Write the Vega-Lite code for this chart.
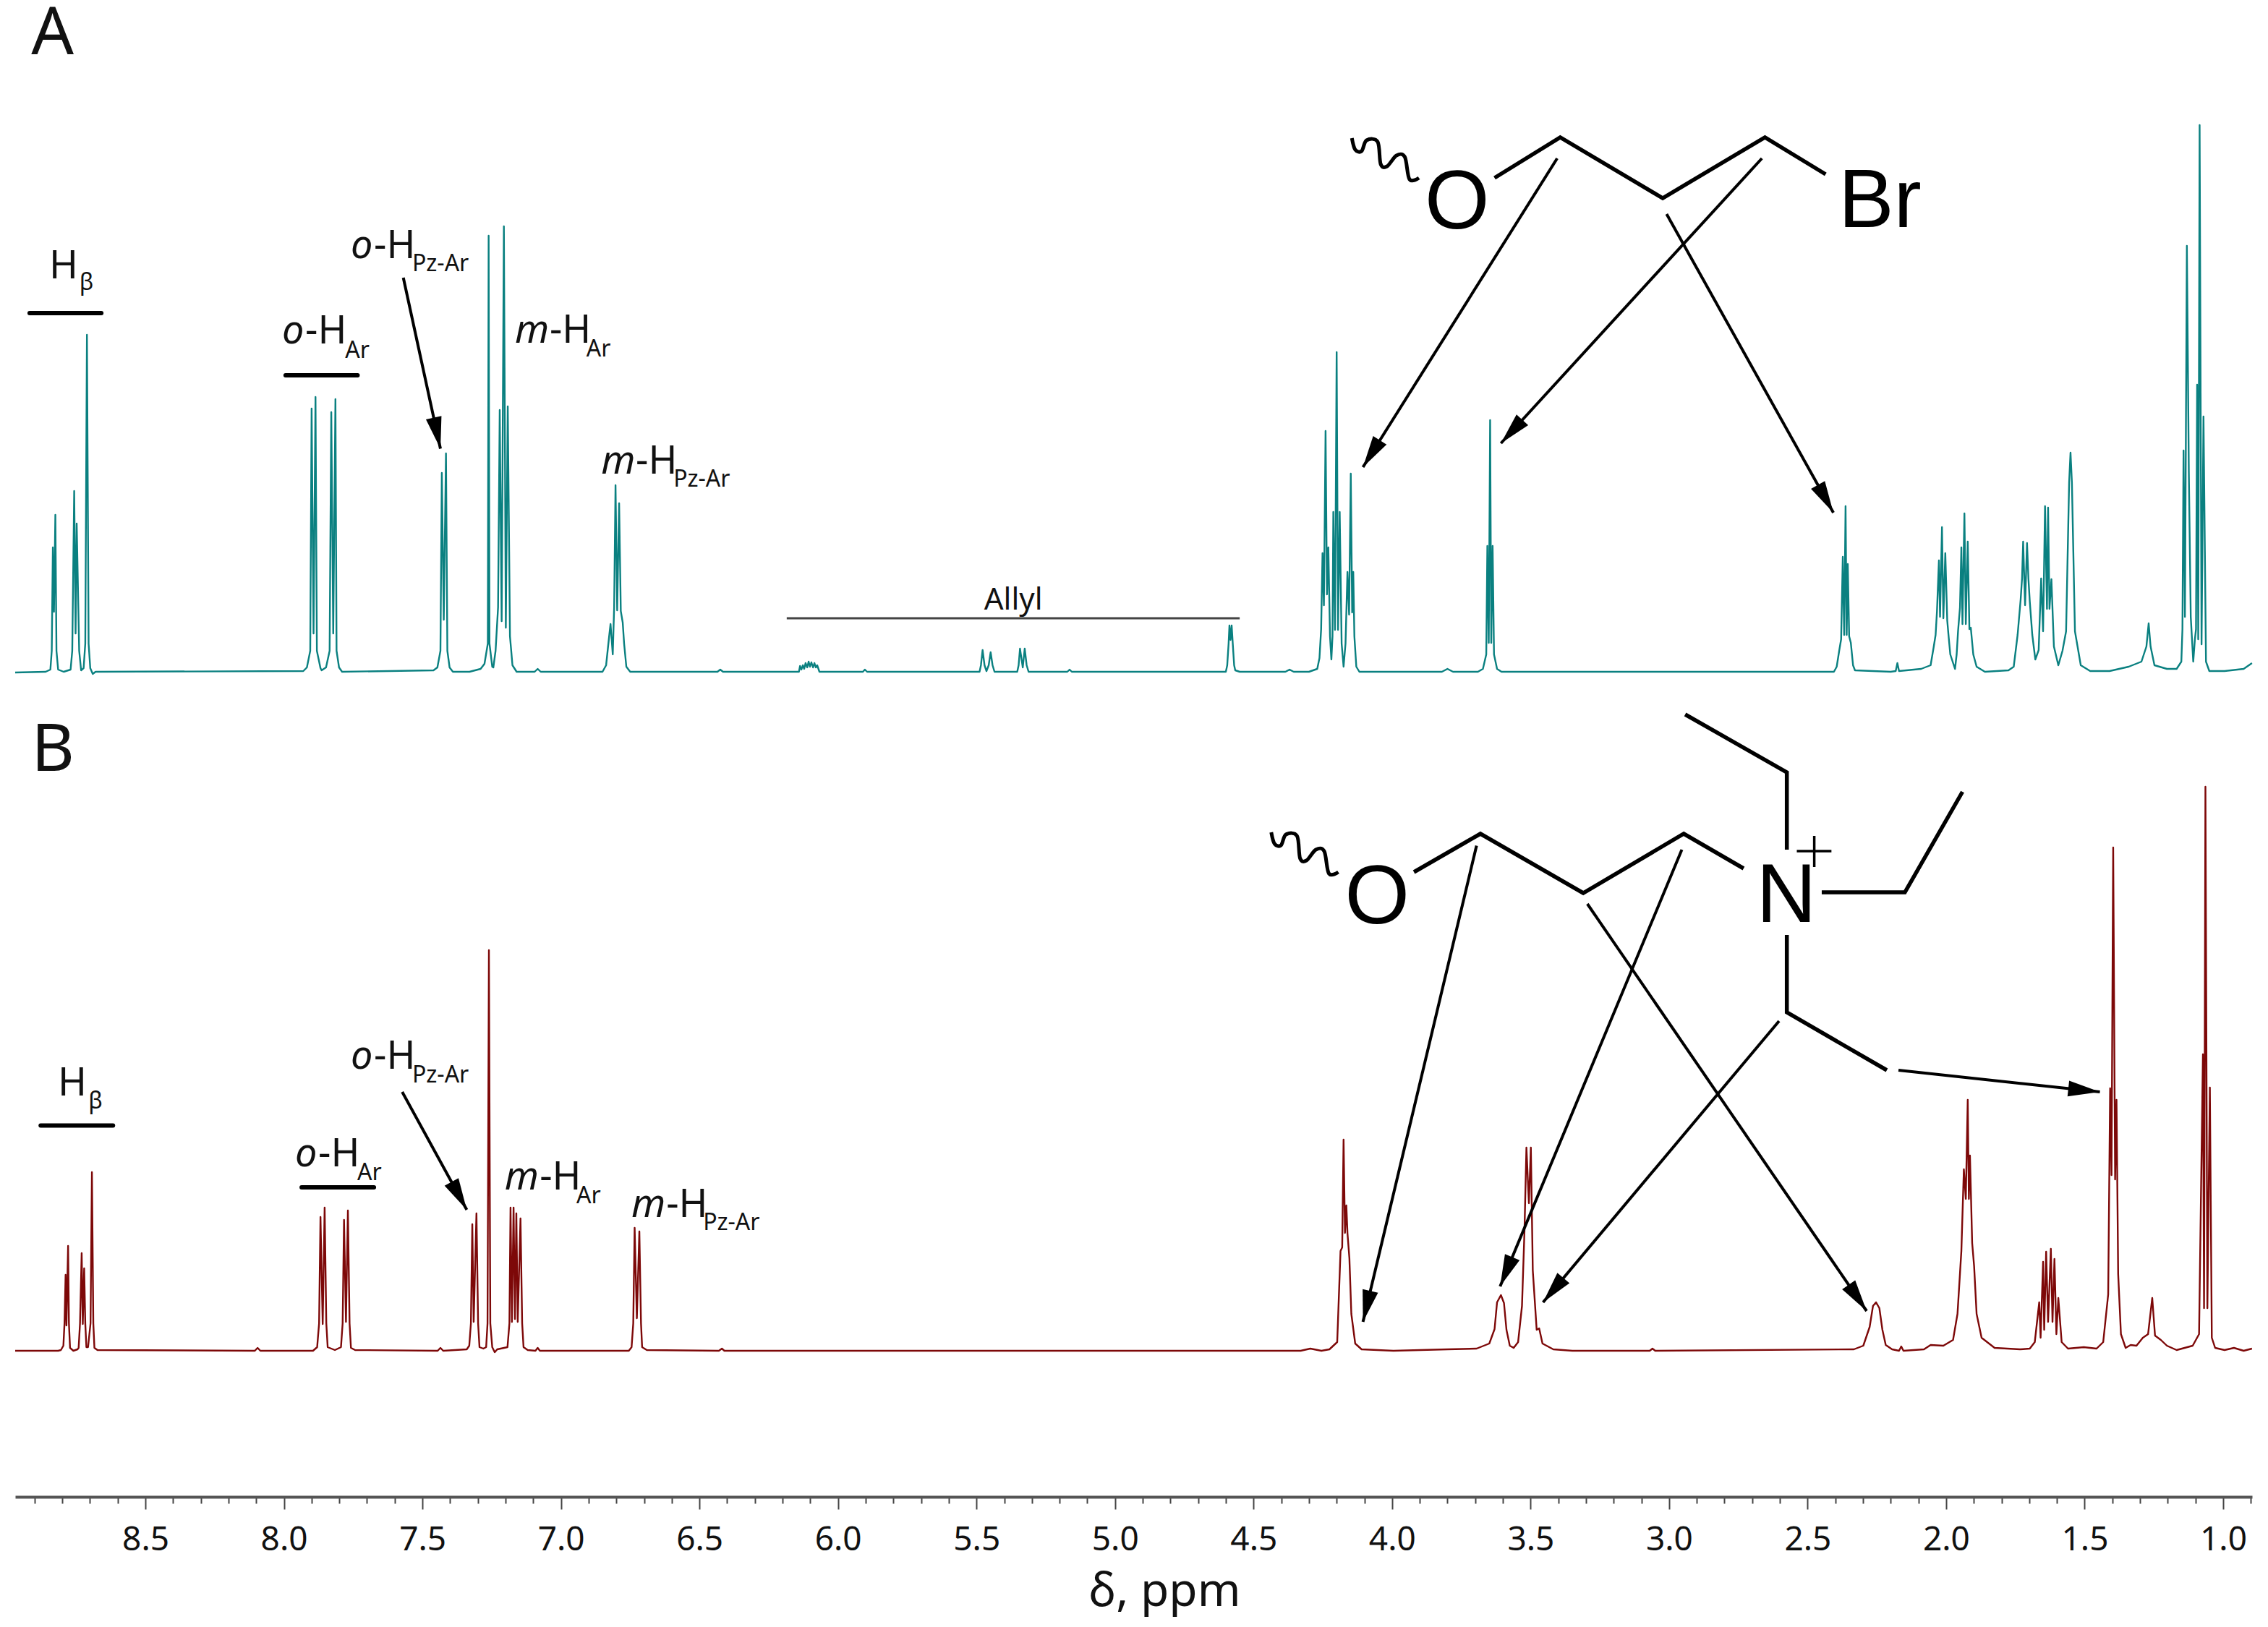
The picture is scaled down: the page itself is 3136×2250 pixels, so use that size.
{
"$schema":"https://vega.github.io/schema/vega-lite/v6.json",
"width":3093,"height":2070,
"autosize":"none",
"padding":{"left":21,"top":0,"right":22,"bottom":180},
"background":"white",
"config":{"view":{"stroke":null}},
"datasets":{
"spectra":[
{"s":"A","x":8.97,"y":1140},{"s":"A","x":8.86,"y":1141},{"s":"A","x":8.843,"y":1144},{"s":"A","x":8.838,"y":1170},{"s":"A","x":8.834,"y":1313},{"s":"A","x":8.83,"y":1224},{"s":"A","x":8.825,"y":1358},{"s":"A","x":8.821,"y":1170},{"s":"A","x":8.815,"y":1144},{"s":"A","x":8.795,"y":1141},{"s":"A","x":8.77,"y":1144},{"s":"A","x":8.764,"y":1170},{"s":"A","x":8.757,"y":1391},{"s":"A","x":8.752,"y":1194},{"s":"A","x":8.748,"y":1346},{"s":"A","x":8.739,"y":1170},{"s":"A","x":8.732,"y":1143},{"s":"A","x":8.723,"y":1146},{"s":"A","x":8.717,"y":1180},{"s":"A","x":8.711,"y":1607},{"s":"A","x":8.705,"y":1180},{"s":"A","x":8.699,"y":1146},{"s":"A","x":8.69,"y":1138},{"s":"A","x":8.68,"y":1141},
{"s":"A","x":7.93,"y":1142},{"s":"A","x":7.917,"y":1147},{"s":"A","x":7.905,"y":1170},{"s":"A","x":7.9,"y":1505},{"s":"A","x":7.893,"y":1194},{"s":"A","x":7.886,"y":1521},{"s":"A","x":7.881,"y":1170},{"s":"A","x":7.868,"y":1146},{"s":"A","x":7.864,"y":1143},{"s":"A","x":7.848,"y":1147},{"s":"A","x":7.835,"y":1170},{"s":"A","x":7.829,"y":1500},{"s":"A","x":7.822,"y":1194},{"s":"A","x":7.814,"y":1518},{"s":"A","x":7.81,"y":1170},{"s":"A","x":7.801,"y":1147},{"s":"A","x":7.79,"y":1141},
{"s":"A","x":7.46,"y":1143},{"s":"A","x":7.446,"y":1147},{"s":"A","x":7.435,"y":1170},{"s":"A","x":7.43,"y":1416},{"s":"A","x":7.423,"y":1213},{"s":"A","x":7.415,"y":1443},{"s":"A","x":7.41,"y":1170},{"s":"A","x":7.402,"y":1147},{"s":"A","x":7.39,"y":1141},{"s":"A","x":7.33,"y":1141},{"s":"A","x":7.29,"y":1145},{"s":"A","x":7.276,"y":1152},{"s":"A","x":7.264,"y":1180},{"s":"A","x":7.261,"y":1744},{"s":"A","x":7.258,"y":1180},{"s":"A","x":7.248,"y":1148},{"s":"A","x":7.244,"y":1147},{"s":"A","x":7.236,"y":1170},{"s":"A","x":7.227,"y":1230},{"s":"A","x":7.221,"y":1503},{"s":"A","x":7.214,"y":1211},{"s":"A","x":7.206,"y":1757},{"s":"A","x":7.199,"y":1202},{"s":"A","x":7.192,"y":1508},{"s":"A","x":7.184,"y":1190},{"s":"A","x":7.175,"y":1150},{"s":"A","x":7.16,"y":1141},{"s":"A","x":7.095,"y":1141},{"s":"A","x":7.084,"y":1145},{"s":"A","x":7.073,"y":1141},
{"s":"A","x":6.85,"y":1141},{"s":"A","x":6.837,"y":1150},{"s":"A","x":6.826,"y":1190},{"s":"A","x":6.821,"y":1207},{"s":"A","x":6.813,"y":1165},{"s":"A","x":6.808,"y":1230},{"s":"A","x":6.803,"y":1399},{"s":"A","x":6.797,"y":1226},{"s":"A","x":6.79,"y":1374},{"s":"A","x":6.784,"y":1225},{"s":"A","x":6.777,"y":1209},{"s":"A","x":6.772,"y":1180},{"s":"A","x":6.764,"y":1148},{"s":"A","x":6.75,"y":1141},{"s":"A","x":6.435,"y":1141},{"s":"A","x":6.425,"y":1144},{"s":"A","x":6.415,"y":1141},
{"s":"A","x":6.141,"y":1141},{"s":"A","x":6.137,"y":1149},{"s":"A","x":6.132,"y":1144},{"s":"A","x":6.127,"y":1150},{"s":"A","x":6.122,"y":1145},{"s":"A","x":6.117,"y":1153},{"s":"A","x":6.111,"y":1147},{"s":"A","x":6.106,"y":1155},{"s":"A","x":6.101,"y":1148},{"s":"A","x":6.096,"y":1154},{"s":"A","x":6.09,"y":1147},{"s":"A","x":6.085,"y":1153},{"s":"A","x":6.08,"y":1147},{"s":"A","x":6.075,"y":1150},{"s":"A","x":6.067,"y":1141},{"s":"A","x":5.91,"y":1141},{"s":"A","x":5.903,"y":1144},{"s":"A","x":5.895,"y":1141},
{"s":"A","x":5.489,"y":1141},{"s":"A","x":5.484,"y":1150},{"s":"A","x":5.478,"y":1171},{"s":"A","x":5.471,"y":1150},{"s":"A","x":5.464,"y":1142},{"s":"A","x":5.456,"y":1150},{"s":"A","x":5.449,"y":1168},{"s":"A","x":5.442,"y":1150},{"s":"A","x":5.435,"y":1141},{"s":"A","x":5.353,"y":1141},{"s":"A","x":5.348,"y":1150},{"s":"A","x":5.343,"y":1173},{"s":"A","x":5.333,"y":1147},{"s":"A","x":5.326,"y":1173},{"s":"A","x":5.319,"y":1150},{"s":"A","x":5.312,"y":1141},{"s":"A","x":5.172,"y":1141},{"s":"A","x":5.164,"y":1144},{"s":"A","x":5.156,"y":1141},
{"s":"A","x":4.6,"y":1141},{"s":"A","x":4.595,"y":1150},{"s":"A","x":4.59,"y":1180},{"s":"A","x":4.587,"y":1205},{"s":"A","x":4.583,"y":1185},{"s":"A","x":4.579,"y":1205},{"s":"A","x":4.575,"y":1180},{"s":"A","x":4.57,"y":1150},{"s":"A","x":4.566,"y":1143},{"s":"A","x":4.55,"y":1141},{"s":"A","x":4.385,"y":1141},{"s":"A","x":4.37,"y":1144},{"s":"A","x":4.355,"y":1141},
{"s":"A","x":4.3,"y":1141},{"s":"A","x":4.27,"y":1145},{"s":"A","x":4.262,"y":1160},{"s":"A","x":4.256,"y":1200},{"s":"A","x":4.251,"y":1305},{"s":"A","x":4.246,"y":1233},{"s":"A","x":4.24,"y":1474},{"s":"A","x":4.235,"y":1248},{"s":"A","x":4.23,"y":1313},{"s":"A","x":4.224,"y":1190},{"s":"A","x":4.219,"y":1158},{"s":"A","x":4.215,"y":1190},{"s":"A","x":4.212,"y":1362},{"s":"A","x":4.206,"y":1199},{"s":"A","x":4.2,"y":1583},{"s":"A","x":4.195,"y":1199},{"s":"A","x":4.189,"y":1362},{"s":"A","x":4.182,"y":1180},{"s":"A","x":4.175,"y":1148},{"s":"A","x":4.168,"y":1180},{"s":"A","x":4.161,"y":1279},{"s":"A","x":4.155,"y":1220},{"s":"A","x":4.149,"y":1415},{"s":"A","x":4.144,"y":1223},{"s":"A","x":4.14,"y":1279},{"s":"A","x":4.136,"y":1190},{"s":"A","x":4.129,"y":1148},{"s":"A","x":4.118,"y":1141},
{"s":"A","x":3.82,"y":1141},{"s":"A","x":3.8,"y":1145},{"s":"A","x":3.78,"y":1141},{"s":"A","x":3.69,"y":1141},{"s":"A","x":3.672,"y":1145},{"s":"A","x":3.66,"y":1165},{"s":"A","x":3.656,"y":1315},{"s":"A","x":3.651,"y":1181},{"s":"A","x":3.646,"y":1489},{"s":"A","x":3.642,"y":1181},{"s":"A","x":3.637,"y":1315},{"s":"A","x":3.632,"y":1165},{"s":"A","x":3.621,"y":1145},{"s":"A","x":3.605,"y":1141},
{"s":"A","x":2.405,"y":1141},{"s":"A","x":2.395,"y":1148},{"s":"A","x":2.386,"y":1170},{"s":"A","x":2.379,"y":1186},{"s":"A","x":2.373,"y":1300},{"s":"A","x":2.368,"y":1192},{"s":"A","x":2.363,"y":1370},{"s":"A","x":2.359,"y":1192},{"s":"A","x":2.355,"y":1290},{"s":"A","x":2.35,"y":1190},{"s":"A","x":2.344,"y":1181},{"s":"A","x":2.336,"y":1150},{"s":"A","x":2.329,"y":1143},{"s":"A","x":2.2,"y":1141},{"s":"A","x":2.182,"y":1142},{"s":"A","x":2.176,"y":1153},{"s":"A","x":2.17,"y":1142},
{"s":"A","x":2.09,"y":1145},{"s":"A","x":2.07,"y":1148},{"s":"A","x":2.056,"y":1150},{"s":"A","x":2.045,"y":1175},{"s":"A","x":2.038,"y":1192},{"s":"A","x":2.033,"y":1225},{"s":"A","x":2.026,"y":1295},{"s":"A","x":2.022,"y":1217},{"s":"A","x":2.015,"y":1341},{"s":"A","x":2.01,"y":1215},{"s":"A","x":2.003,"y":1305},{"s":"A","x":1.996,"y":1212},{"s":"A","x":1.992,"y":1194},{"s":"A","x":1.985,"y":1165},{"s":"A","x":1.968,"y":1145},{"s":"A","x":1.962,"y":1165},{"s":"A","x":1.957,"y":1197},{"s":"A","x":1.95,"y":1230},{"s":"A","x":1.945,"y":1313},{"s":"A","x":1.941,"y":1207},{"s":"A","x":1.934,"y":1360},{"s":"A","x":1.929,"y":1207},{"s":"A","x":1.922,"y":1321},{"s":"A","x":1.916,"y":1200},{"s":"A","x":1.911,"y":1202},{"s":"A","x":1.902,"y":1165},{"s":"A","x":1.89,"y":1148},{"s":"A","x":1.86,"y":1141},
{"s":"A","x":1.775,"y":1143},{"s":"A","x":1.756,"y":1148},{"s":"A","x":1.742,"y":1192},{"s":"A","x":1.731,"y":1241},{"s":"A","x":1.726,"y":1270},{"s":"A","x":1.722,"y":1321},{"s":"A","x":1.715,"y":1233},{"s":"A","x":1.708,"y":1319},{"s":"A","x":1.703,"y":1270},{"s":"A","x":1.698,"y":1238},{"s":"A","x":1.689,"y":1192},{"s":"A","x":1.678,"y":1158},{"s":"A","x":1.666,"y":1171},{"s":"A","x":1.657,"y":1270},{"s":"A","x":1.65,"y":1197},{"s":"A","x":1.643,"y":1370},{"s":"A","x":1.636,"y":1228},{"s":"A","x":1.632,"y":1368},{"s":"A","x":1.627,"y":1228},{"s":"A","x":1.62,"y":1269},{"s":"A","x":1.611,"y":1176},{"s":"A","x":1.595,"y":1150},{"s":"A","x":1.58,"y":1170},{"s":"A","x":1.567,"y":1197},{"s":"A","x":1.556,"y":1403},{"s":"A","x":1.551,"y":1444},{"s":"A","x":1.546,"y":1403},{"s":"A","x":1.535,"y":1197},{"s":"A","x":1.514,"y":1150},{"s":"A","x":1.48,"y":1142},{"s":"A","x":1.41,"y":1142},{"s":"A","x":1.341,"y":1148},{"s":"A","x":1.295,"y":1155},{"s":"A","x":1.277,"y":1176},{"s":"A","x":1.269,"y":1208},{"s":"A","x":1.262,"y":1176},{"s":"A","x":1.248,"y":1150},{"s":"A","x":1.203,"y":1145},{"s":"A","x":1.168,"y":1145},{"s":"A","x":1.151,"y":1155},{"s":"A","x":1.147,"y":1200},{"s":"A","x":1.143,"y":1447},{"s":"A","x":1.138,"y":1217},{"s":"A","x":1.131,"y":1730},{"s":"A","x":1.124,"y":1419},{"s":"A","x":1.117,"y":1217},{"s":"A","x":1.108,"y":1155},{"s":"A","x":1.102,"y":1186},{"s":"A","x":1.098,"y":1200},{"s":"A","x":1.094,"y":1538},{"s":"A","x":1.09,"y":1186},{"s":"A","x":1.085,"y":1897},{"s":"A","x":1.078,"y":1179},{"s":"A","x":1.071,"y":1494},{"s":"A","x":1.062,"y":1155},{"s":"A","x":1.05,"y":1142},{"s":"A","x":0.995,"y":1142},{"s":"A","x":0.926,"y":1145},{"s":"A","x":0.896,"y":1153},
{"s":"B","x":8.97,"y":202},{"s":"B","x":8.815,"y":202},{"s":"B","x":8.805,"y":203},{"s":"B","x":8.796,"y":209},{"s":"B","x":8.792,"y":240},{"s":"B","x":8.788,"y":307},{"s":"B","x":8.785,"y":237},{"s":"B","x":8.779,"y":347},{"s":"B","x":8.776,"y":240},{"s":"B","x":8.772,"y":206},{"s":"B","x":8.76,"y":202},{"s":"B","x":8.745,"y":204},{"s":"B","x":8.741,"y":206},{"s":"B","x":8.736,"y":240},{"s":"B","x":8.73,"y":337},{"s":"B","x":8.726,"y":239},{"s":"B","x":8.721,"y":316},{"s":"B","x":8.717,"y":240},{"s":"B","x":8.713,"y":207},{"s":"B","x":8.707,"y":207},{"s":"B","x":8.698,"y":240},{"s":"B","x":8.693,"y":449},{"s":"B","x":8.688,"y":240},{"s":"B","x":8.684,"y":206},{"s":"B","x":8.673,"y":203},{"s":"B","x":8.105,"y":202},{"s":"B","x":8.095,"y":206},{"s":"B","x":8.085,"y":202},
{"s":"B","x":7.895,"y":202},{"s":"B","x":7.88,"y":207},{"s":"B","x":7.873,"y":240},{"s":"B","x":7.868,"y":387},{"s":"B","x":7.86,"y":239},{"s":"B","x":7.853,"y":400},{"s":"B","x":7.847,"y":240},{"s":"B","x":7.842,"y":207},{"s":"B","x":7.816,"y":203},{"s":"B","x":7.794,"y":207},{"s":"B","x":7.788,"y":240},{"s":"B","x":7.783,"y":383},{"s":"B","x":7.776,"y":242},{"s":"B","x":7.769,"y":396},{"s":"B","x":7.763,"y":240},{"s":"B","x":7.758,"y":206},{"s":"B","x":7.743,"y":203},{"s":"B","x":7.445,"y":202},{"s":"B","x":7.435,"y":206},{"s":"B","x":7.425,"y":202},
{"s":"B","x":7.34,"y":204},{"s":"B","x":7.331,"y":209},{"s":"B","x":7.325,"y":240},{"s":"B","x":7.32,"y":377},{"s":"B","x":7.315,"y":242},{"s":"B","x":7.305,"y":392},{"s":"B","x":7.299,"y":240},{"s":"B","x":7.294,"y":207},{"s":"B","x":7.28,"y":205},{"s":"B","x":7.27,"y":207},{"s":"B","x":7.265,"y":240},{"s":"B","x":7.26,"y":756},{"s":"B","x":7.255,"y":240},{"s":"B","x":7.248,"y":207},{"s":"B","x":7.239,"y":200},{"s":"B","x":7.23,"y":204},{"s":"B","x":7.193,"y":207},{"s":"B","x":7.186,"y":240},{"s":"B","x":7.182,"y":400},{"s":"B","x":7.177,"y":242},{"s":"B","x":7.171,"y":400},{"s":"B","x":7.166,"y":246},{"s":"B","x":7.161,"y":392},{"s":"B","x":7.156,"y":242},{"s":"B","x":7.146,"y":385},{"s":"B","x":7.14,"y":240},{"s":"B","x":7.135,"y":207},{"s":"B","x":7.12,"y":203},{"s":"B","x":7.092,"y":202},{"s":"B","x":7.084,"y":206},{"s":"B","x":7.076,"y":202},
{"s":"B","x":6.755,"y":202},{"s":"B","x":6.745,"y":207},{"s":"B","x":6.739,"y":240},{"s":"B","x":6.734,"y":372},{"s":"B","x":6.726,"y":247},{"s":"B","x":6.717,"y":367},{"s":"B","x":6.711,"y":240},{"s":"B","x":6.707,"y":207},{"s":"B","x":6.69,"y":203},{"s":"B","x":6.43,"y":202},{"s":"B","x":6.419,"y":205},{"s":"B","x":6.41,"y":202},
{"s":"B","x":4.33,"y":202},{"s":"B","x":4.295,"y":205},{"s":"B","x":4.255,"y":202},{"s":"B","x":4.226,"y":204},{"s":"B","x":4.198,"y":214},{"s":"B","x":4.186,"y":340},{"s":"B","x":4.18,"y":345},{"s":"B","x":4.175,"y":494},{"s":"B","x":4.17,"y":365},{"s":"B","x":4.165,"y":403},{"s":"B","x":4.161,"y":365},{"s":"B","x":4.154,"y":330},{"s":"B","x":4.147,"y":253},{"s":"B","x":4.133,"y":212},{"s":"B","x":4.11,"y":204},{"s":"B","x":3.995,"y":202},{"s":"B","x":3.8,"y":204},{"s":"B","x":3.695,"y":205},{"s":"B","x":3.649,"y":212},{"s":"B","x":3.63,"y":232},{"s":"B","x":3.621,"y":269},{"s":"B","x":3.607,"y":279},{"s":"B","x":3.596,"y":268},{"s":"B","x":3.587,"y":231},{"s":"B","x":3.575,"y":209},{"s":"B","x":3.561,"y":206},{"s":"B","x":3.545,"y":214},{"s":"B","x":3.531,"y":264},{"s":"B","x":3.522,"y":368},{"s":"B","x":3.515,"y":483},{"s":"B","x":3.506,"y":406},{"s":"B","x":3.499,"y":483},{"s":"B","x":3.492,"y":313},{"s":"B","x":3.478,"y":231},{"s":"B","x":3.469,"y":233},{"s":"B","x":3.457,"y":212},{"s":"B","x":3.418,"y":204},{"s":"B","x":3.349,"y":202},{"s":"B","x":3.07,"y":202},{"s":"B","x":3.06,"y":205},{"s":"B","x":3.05,"y":202},
{"s":"B","x":2.333,"y":204},{"s":"B","x":2.299,"y":209},{"s":"B","x":2.276,"y":235},{"s":"B","x":2.264,"y":264},{"s":"B","x":2.253,"y":269},{"s":"B","x":2.241,"y":261},{"s":"B","x":2.23,"y":231},{"s":"B","x":2.218,"y":210},{"s":"B","x":2.195,"y":204},{"s":"B","x":2.17,"y":202},{"s":"B","x":2.162,"y":208},{"s":"B","x":2.154,"y":202},{"s":"B","x":2.08,"y":204},{"s":"B","x":2.056,"y":210},{"s":"B","x":2.01,"y":209},{"s":"B","x":1.975,"y":217},{"s":"B","x":1.959,"y":253},{"s":"B","x":1.945,"y":340},{"s":"B","x":1.936,"y":453},{"s":"B","x":1.929,"y":412},{"s":"B","x":1.922,"y":549},{"s":"B","x":1.918,"y":412},{"s":"B","x":1.914,"y":472},{"s":"B","x":1.906,"y":351},{"s":"B","x":1.899,"y":319},{"s":"B","x":1.89,"y":253},{"s":"B","x":1.872,"y":220},{"s":"B","x":1.825,"y":206},{"s":"B","x":1.733,"y":204},
{"s":"B","x":1.698,"y":205},{"s":"B","x":1.68,"y":214},{"s":"B","x":1.664,"y":269},{"s":"B","x":1.659,"y":220},{"s":"B","x":1.65,"y":325},{"s":"B","x":1.646,"y":231},{"s":"B","x":1.639,"y":339},{"s":"B","x":1.632,"y":242},{"s":"B","x":1.622,"y":343},{"s":"B","x":1.616,"y":242},{"s":"B","x":1.609,"y":329},{"s":"B","x":1.602,"y":225},{"s":"B","x":1.595,"y":275},{"s":"B","x":1.583,"y":214},{"s":"B","x":1.56,"y":205},{"s":"B","x":1.503,"y":207},{"s":"B","x":1.457,"y":205},{"s":"B","x":1.433,"y":214},{"s":"B","x":1.415,"y":280},{"s":"B","x":1.408,"y":565},{"s":"B","x":1.403,"y":445},{"s":"B","x":1.397,"y":898},{"s":"B","x":1.39,"y":439},{"s":"B","x":1.385,"y":549},{"s":"B","x":1.379,"y":308},{"s":"B","x":1.369,"y":225},{"s":"B","x":1.352,"y":206},{"s":"B","x":1.334,"y":210},{"s":"B","x":1.313,"y":209},{"s":"B","x":1.29,"y":220},{"s":"B","x":1.271,"y":225},{"s":"B","x":1.256,"y":275},{"s":"B","x":1.246,"y":223},{"s":"B","x":1.225,"y":217},{"s":"B","x":1.203,"y":209},{"s":"B","x":1.168,"y":203},{"s":"B","x":1.11,"y":209},{"s":"B","x":1.087,"y":225},{"s":"B","x":1.073,"y":612},{"s":"B","x":1.069,"y":261},{"s":"B","x":1.064,"y":982},{"s":"B","x":1.057,"y":261},{"s":"B","x":1.048,"y":566},{"s":"B","x":1.041,"y":220},{"s":"B","x":1.029,"y":206},{"s":"B","x":0.995,"y":203},{"s":"B","x":0.961,"y":206},{"s":"B","x":0.926,"y":202},{"s":"B","x":0.896,"y":205}
],
"bonds":[
{"b":"a","i":1,"x":3.63,"y":1824},{"b":"a","i":2,"x":3.393,"y":1880},{"b":"a","i":3,"x":3.023,"y":1796},{"b":"a","i":4,"x":2.654,"y":1880},{"b":"a","i":5,"x":2.435,"y":1829},
{"b":"b","i":1,"x":3.921,"y":864},{"b":"b","i":2,"x":3.681,"y":917},{"b":"b","i":3,"x":3.31,"y":835},{"b":"b","i":4,"x":2.947,"y":917},{"b":"b","i":5,"x":2.731,"y":869},
{"b":"c","i":1,"x":2.575,"y":895},{"b":"c","i":2,"x":2.575,"y":1002},{"b":"c","i":3,"x":2.942,"y":1082},
{"b":"d","i":1,"x":2.449,"y":836},{"b":"d","i":2,"x":2.149,"y":836},{"b":"d","i":3,"x":1.941,"y":975},
{"b":"e","i":1,"x":2.575,"y":777},{"b":"e","i":2,"x":2.575,"y":670},{"b":"e","i":3,"x":2.214,"y":590}
],
"squiggles":[
{"b":"a","x":4.145,"y":1879},{"b":"a","x":4.133,"y":1863},{"b":"a","x":4.11,"y":1861},{"b":"a","x":4.092,"y":1876},{"b":"a","x":4.052,"y":1874},{"b":"a","x":4.041,"y":1843},{"b":"a","x":4.018,"y":1840},{"b":"a","x":3.984,"y":1855},{"b":"a","x":3.954,"y":1853},{"b":"a","x":3.937,"y":1822},{"b":"a","x":3.903,"y":1824},
{"b":"b","x":4.436,"y":919},{"b":"b","x":4.424,"y":903},{"b":"b","x":4.401,"y":901},{"b":"b","x":4.383,"y":916},{"b":"b","x":4.343,"y":914},{"b":"b","x":4.332,"y":883},{"b":"b","x":4.309,"y":880},{"b":"b","x":4.275,"y":895},{"b":"b","x":4.245,"y":893},{"b":"b","x":4.228,"y":862},{"b":"b","x":4.194,"y":864}
],
"bars":[
{"x":8.918,"x2":8.659,"y":1637},{"x":7.994,"x2":7.734,"y":1551},{"x":8.878,"x2":8.617,"y":513.5},{"x":7.936,"x2":7.675,"y":428}
],
"arrows":[
{"x":3.404,"y":1851,"x2":4.105,"y2":1424},{"x":2.665,"y":1851,"x2":3.607,"y2":1457},{"x":3.009,"y":1774,"x2":2.407,"y2":1361},{"x":7.569,"y":1686,"x2":7.435,"y2":1449.5},
{"x":7.573,"y":560,"x2":7.34,"y2":397},{"x":3.695,"y":900.5,"x2":4.105,"y2":242},{"x":2.954,"y":895,"x2":3.61,"y2":291},{"x":2.603,"y":658,"x2":3.455,"y2":269},{"x":3.295,"y":820,"x2":2.287,"y2":257},{"x":2.172,"y":590,"x2":1.445,"y2":560}
],
"plus":[
{"x":2.539,"x2":2.414,"y":893,"y2":893},{"x":2.476,"x2":2.476,"y":914,"y2":871}
],
"labels":[
{"kind":"panel","x":8.912,"y":1995,"t":"A"},{"kind":"panel","x":8.912,"y":1004,"t":"B"},
{"kind":"normal","x":8.847,"y":1685,"t":"H"},{"kind":"normal","x":7.923,"y":1595,"t":"-H"},{"kind":"normal","x":7.675,"y":1713,"t":"-H"},{"kind":"normal","x":7.041,"y":1596,"t":"-H"},{"kind":"normal","x":6.73,"y":1415,"t":"-H"},
{"kind":"normal","x":8.816,"y":555,"t":"H"},{"kind":"normal","x":7.876,"y":457,"t":"-H"},{"kind":"normal","x":7.675,"y":592,"t":"-H"},{"kind":"normal","x":7.077,"y":425,"t":"-H"},{"kind":"normal","x":6.62,"y":387,"t":"-H"},
{"kind":"italic","x":8.007,"y":1595,"t":"o"},{"kind":"italic","x":7.759,"y":1713,"t":"o"},{"kind":"italic","x":7.166,"y":1596,"t":"m"},{"kind":"italic","x":6.855,"y":1415,"t":"m"},
{"kind":"italic","x":7.96,"y":457,"t":"o"},{"kind":"italic","x":7.759,"y":592,"t":"o"},{"kind":"italic","x":7.203,"y":425,"t":"m"},{"kind":"italic","x":6.746,"y":387,"t":"m"},
{"kind":"sub","x":8.738,"y":1669,"t":"β"},{"kind":"sub","x":7.779,"y":1575,"t":"Ar"},{"kind":"sub","x":7.537,"y":1695,"t":"Pz-Ar"},{"kind":"sub","x":6.908,"y":1577,"t":"Ar"},{"kind":"sub","x":6.594,"y":1397,"t":"Pz-Ar"},
{"kind":"sub","x":8.706,"y":537,"t":"β"},{"kind":"sub","x":7.735,"y":438,"t":"Ar"},{"kind":"sub","x":7.537,"y":573,"t":"Pz-Ar"},{"kind":"sub","x":6.944,"y":406,"t":"Ar"},{"kind":"sub","x":6.487,"y":369,"t":"Pz-Ar"},
{"kind":"allyl","x":5.367,"y":1227,"t":"Allyl"},
{"kind":"atom","x":3.765,"y":1754,"t":"O"},{"kind":"atom","x":2.239,"y":1756,"t":"Br"},{"kind":"atom","x":4.054,"y":793,"t":"O"},{"kind":"atom","x":2.577,"y":795,"t":"N"}
]
},
"encoding":{
"x":{"field":"x","type":"quantitative",
"scale":{"domain":[8.97,0.8956],"nice":false,"zero":false},
"axis":{"title":"δ, ppm","titleFont":"Noto Sans","titleFontSize":64,"titleFontWeight":"normal","titleColor":"#111","titleX":1589,"titleY":150,"titleBaseline":"alphabetic",
"values":[8.9,8.8,8.7,8.6,8.5,8.4,8.3,8.2,8.1,8.0,7.9,7.8,7.7,7.6,7.5,7.4,7.3,7.2,7.1,7.0,6.9,6.8,6.7,6.6,6.5,6.4,6.3,6.2,6.1,6.0,5.9,5.8,5.7,5.6,5.5,5.4,5.3,5.2,5.1,5.0,4.9,4.8,4.7,4.6,4.5,4.4,4.3,4.2,4.1,4.0,3.9,3.8,3.7,3.6,3.5,3.4,3.3,3.2,3.1,3.0,2.9,2.8,2.7,2.6,2.5,2.4,2.3,2.2,2.1,2.0,1.9,1.8,1.7,1.6,1.5,1.4,1.3,1.2,1.1,1.0,0.9],
"labelExpr":"abs(datum.value*2-round(datum.value*2))<0.01 ? format(datum.value,'.1f') : ''",
"labelOverlap":false,"labelFlush":false,"labelFont":"Noto Sans","labelFontSize":46,"labelColor":"#111","labelPadding":20,
"tickSize":{"condition":{"test":"abs(datum.value*2-round(datum.value*2))<0.01","value":17},"value":9},
"tickWidth":2,"tickColor":"#444","domainColor":"#555","domainWidth":4,"grid":false}},
"y":{"field":"y","type":"quantitative","scale":{"domain":[0,2070],"nice":false,"zero":false},"axis":null}
},
"layer":[
{"data":{"name":"spectra"},"mark":{"type":"line","strokeWidth":2.4,"strokeJoin":"round"},
"encoding":{"color":{"field":"s","type":"nominal","scale":{"domain":["A","B"],"range":["#0a8080","#7d0808"]},"legend":null},"order":null}},
{"data":{"name":"bonds"},"mark":{"type":"line","color":"black","strokeWidth":5.5,"strokeJoin":"miter"},
"encoding":{"detail":{"field":"b"},"order":{"field":"i","type":"quantitative"}}},
{"data":{"name":"squiggles"},"mark":{"type":"line","color":"black","strokeWidth":5,"interpolate":"cardinal"},
"encoding":{"detail":{"field":"b"},"order":null}},
{"data":{"name":"bars"},"mark":{"type":"rule","color":"black","strokeWidth":6,"strokeCap":"round"},
"encoding":{"x2":{"field":"x2"}}},
{"data":{"values":[{"x":6.185,"x2":4.55,"y":1215}]},"mark":{"type":"rule","color":"#444","strokeWidth":3},
"encoding":{"x2":{"field":"x2"}}},
{"data":{"name":"plus"},"mark":{"type":"rule","color":"black","strokeWidth":3.5},
"encoding":{"x2":{"field":"x2"},"y2":{"field":"y2"}}},
{"data":{"name":"arrows"},"mark":{"type":"rule","color":"black","strokeWidth":4},
"encoding":{"x2":{"field":"x2"},"y2":{"field":"y2"}}},
{"data":{"name":"arrows"},
"transform":[{"calculate":"atan2((datum.x-datum.x2)*383.07,datum.y2-datum.y)*180/PI","as":"angle"}],
"mark":{"type":"point","filled":true,"opacity":1,"color":"black","shape":"M0,0L-0.25,1L0.25,1Z","size":7700},
"encoding":{"x":{"field":"x2","type":"quantitative"},"y":{"field":"y2","type":"quantitative"},"angle":{"field":"angle","type":"quantitative","scale":null}}},
{"data":{"name":"labels"},"transform":[{"filter":"datum.kind=='normal'"}],
"mark":{"type":"text","align":"left","baseline":"alphabetic","font":"Noto Sans","fontSize":54,"color":"#111"},"encoding":{"text":{"field":"t"}}},
{"data":{"name":"labels"},"transform":[{"filter":"datum.kind=='italic'"}],
"mark":{"type":"text","align":"left","baseline":"alphabetic","font":"Noto Sans","fontStyle":"italic","fontSize":54,"color":"#111"},"encoding":{"text":{"field":"t"}}},
{"data":{"name":"labels"},"transform":[{"filter":"datum.kind=='sub'"}],
"mark":{"type":"text","align":"left","baseline":"alphabetic","font":"Noto Sans","fontSize":32,"color":"#111"},"encoding":{"text":{"field":"t"}}},
{"data":{"name":"labels"},"transform":[{"filter":"datum.kind=='panel'"}],
"mark":{"type":"text","align":"left","baseline":"alphabetic","font":"Noto Sans","fontSize":92,"color":"#111"},"encoding":{"text":{"field":"t"}}},
{"data":{"name":"labels"},"transform":[{"filter":"datum.kind=='allyl'"}],
"mark":{"type":"text","align":"center","baseline":"alphabetic","font":"Noto Sans","fontSize":42,"color":"#111"},"encoding":{"text":{"field":"t"}}},
{"data":{"name":"labels"},"transform":[{"filter":"datum.kind=='atom'"}],
"mark":{"type":"text","align":"center","baseline":"alphabetic","font":"Liberation Sans","fontSize":115,"color":"black"},"encoding":{"text":{"field":"t"}}}
]
}
